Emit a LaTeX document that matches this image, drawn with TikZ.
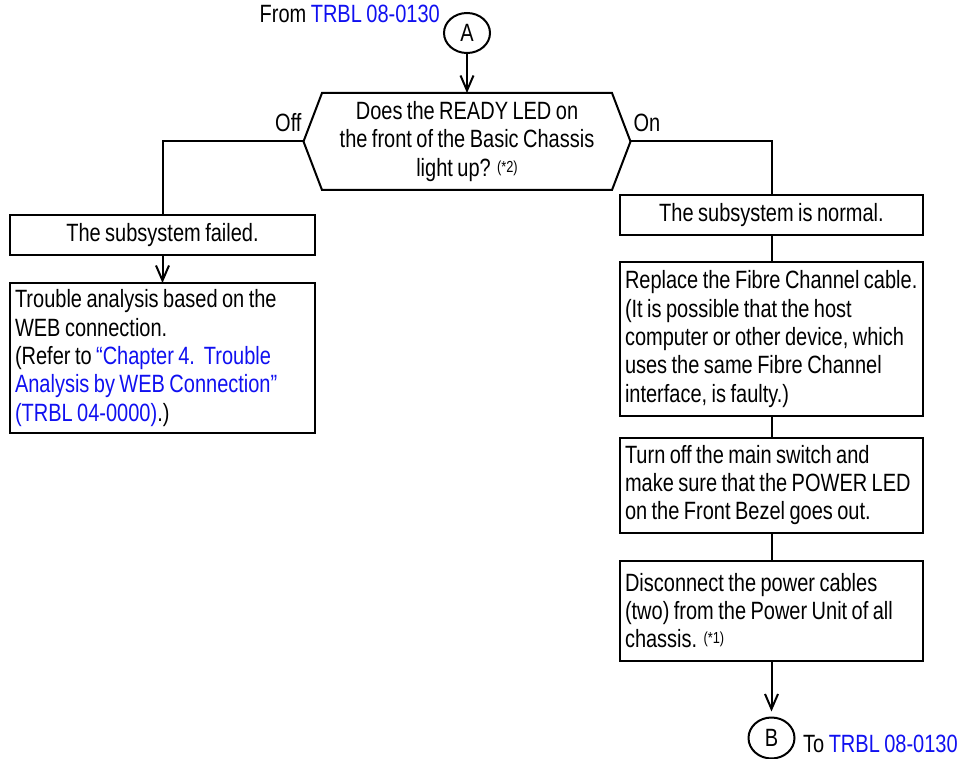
\documentclass[tikz,border=0pt]{standalone}
\usepackage{fontspec}
\setmainfont{Liberation Sans}[FakeStretch=0.8, WordSpace=0.8]
\usetikzlibrary{arrows.meta, positioning, shapes.geometric}
\definecolor{linkblue}{HTML}{1010F0}
\hyphenpenalty=10000
\newcommand{\fnote}[1]{{\fontsize{16}{16}\selectfont\raisebox{4pt}{#1}}}

\begin{document}
\begin{tikzpicture}[
    x=1pt, y=-1pt,
    font=\fontsize{25}{28.3}\selectfont,
    box/.style={draw, rectangle, line width=2pt, outer sep=0pt, inner xsep=5pt, inner ysep=4pt, text width=293pt, align=flush left},
    single/.style={box, align=flush center, minimum height=40pt},
    conn/.style={draw, ellipse, line width=2pt, outer sep=0pt, minimum width=46pt, minimum height=41pt, inner sep=0pt},
    ln/.style={line width=2pt},
    ar/.style={ln, -{Straight Barb[length=15pt, width=13pt]}}
  ]
    \useasboundingbox (0,0) rectangle (961,759);
    % entry point and question
    \node[conn, minimum height=40pt] (A) at (467,33) {A};
    \node[anchor=base east, inner sep=0pt] (from) at ([xshift=-4pt, yshift=10pt]A.west) {From {\color{linkblue}TRBL 08-0130}};
    \node[minimum width=290pt, minimum height=97pt, inner sep=0pt, outer sep=0pt, align=center] (q) at (467,141.5)
      {Does the READY LED on\\the front of the Basic Chassis\\light up? \fnote{(*2)}};
    \coordinate (qw) at ([xshift=-18.5pt]q.west);
    \coordinate (qe) at ([xshift=18.5pt]q.east);
    \draw[ln] (q.north west) -- (q.north east) -- (qe) -- (q.south east) -- (q.south west) -- (qw) -- cycle;
    % Off branch
    \node[single, text width=295pt] (failed) at (162.5,235) {The subsystem failed.};
    \node[box, text width=295pt, minimum height=150pt, below=28pt of failed] (web)
      {Trouble analysis based on the\\WEB connection.\\(Refer to {\color{linkblue}“Chapter 4.\ \ Trouble}\\{\color{linkblue}Analysis by WEB Connection”}\\{\color{linkblue}(TRBL 04-0000)}.)};
    % On branch
    \node[single] (normal) at (771.5,215.5) {The subsystem is normal.};
    \node[box, minimum height=153pt, below=27pt of normal] (cable)
      {Replace the Fibre Channel cable.\\(It is possible that the host\\computer or other device, which\\uses the same Fibre Channel\\interface, is faulty.)};
    \node[box, minimum height=95pt, below=22pt of cable] (power)
      {Turn off the main switch and\\make sure that the POWER LED\\on the Front Bezel goes out.};
    \node[box, minimum height=100pt, below=28pt of power] (unplug)
      {Disconnect the power cables\\(two) from the Power Unit of all\\chassis. \fnote{(*1)}};
    \node[conn, below=57pt of unplug] (B) {B};
    \node[anchor=base west, inner sep=0pt] (to) at ([xshift=8.5pt, yshift=-14.5pt]B.east) {To {\color{linkblue}TRBL 08-0130}};
    % connectors
    \draw[ar] (A) -- (q.north);
    \draw[ln] (qw) -| node[at start, anchor=base east, yshift=10pt, xshift=-1pt, inner sep=0pt]{Off} (failed.north);
    \draw[ln] (qe) -| node[at start, anchor=base west, yshift=10pt, xshift=2pt, inner sep=0pt]{On} (normal.north);
    \draw[ar] (failed) -- (web);
    \draw[ln] (normal) -- (cable);
    \draw[ln] (cable) -- (power);
    \draw[ln] (power) -- (unplug);
    \draw[ar, shorten >=6pt] (unplug) -- (B);
\end{tikzpicture}
\end{document}
